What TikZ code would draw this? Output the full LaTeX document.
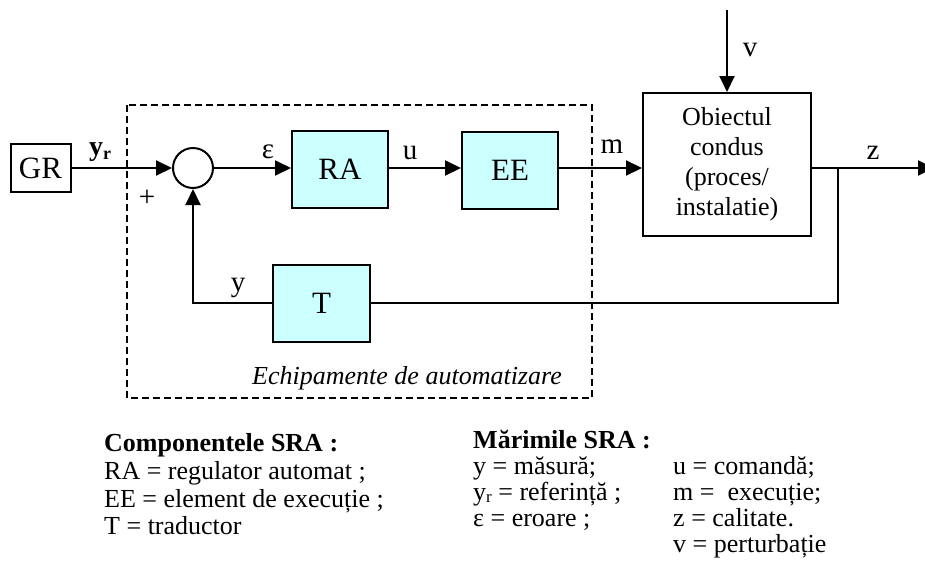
\documentclass[tikz,border=0pt]{standalone}
\usepackage{fontspec}
\setmainfont{Liberation Serif}
\usetikzlibrary{arrows.meta}
\definecolor{boxcyan}{HTML}{CCFFFF}
\tikzset{
  blk/.style={draw, line width=2pt, fill=boxcyan, inner sep=0pt, font=\fontsize{31}{33}\selectfont},
  plainblk/.style={draw, line width=2pt, fill=white, inner sep=0pt},
  sumnode/.style={draw, circle, line width=2pt, minimum size=40pt, inner sep=0pt},
  sig/.style={font=\fontsize{29}{31}\selectfont, inner sep=0pt},
  conn/.style={line width=2pt},
  arr/.style={conn, -{Triangle[length=16pt,width=15pt]}},
  legend/.style={font=\fontsize{26}{28}\selectfont, anchor=base west, inner sep=0pt},
  dashbox/.style={line width=2pt, dash pattern=on 7pt off 4pt},
}
\begin{document}
\begin{tikzpicture}[x=1pt,y=-1pt]
\clip (0,0) rectangle (925,568);
% dashed frame (automation equipment)
\draw[dashbox] (127,105) rectangle (592,398);
% blocks
\node[plainblk, minimum width=60pt, minimum height=48pt, font=\fontsize{31}{33}\selectfont] (GR) at (40.5,168) {GR};
\node[sumnode] (sum) at (193,168) {};
\node[blk, minimum width=96pt, minimum height=77pt] (RA) at (340,169.5) {RA};
\node[blk, minimum width=96pt, minimum height=77pt] (EE) at (510,170.5) {EE};
\node[blk, minimum width=97pt, minimum height=77pt] (T) at (321.5,303) {T};
\node[plainblk, minimum width=168pt, minimum height=143pt, align=center,
      font=\fontsize{26}{30}\selectfont] (Ob) at (727,164.5) {Obiectul\\condus\\(proces/\\instalatie)};
% coordinates
\coordinate (vtop) at (727,10);
\coordinate (zend) at (934,168);
\coordinate (br) at (838,168);
% connectors
\draw[arr] (GR.east |- sum.west) -- (sum.west);
\draw[arr] (sum.east) -- (sum.east -| RA.west);
\draw[arr] (sum.east -| RA.east) -- (sum.east -| EE.west);
\draw[arr] (sum.east -| EE.east) -- (sum.east -| Ob.west);
\draw[arr] (vtop) -- (Ob.north);
\draw[arr] (sum.east -| Ob.east) -- (zend);
\draw[conn] (br) |- (T.east);
\draw[arr] (T.west) -| (sum.south);
% signal labels
\node[sig, font=\fontsize{28}{30}\selectfont\bfseries] (lyr) at (100,152) {y\raisebox{-0.3ex}{\fontsize{18}{18}\selectfont r}};
\node[sig] (lplus) at (147,198) {+};
\node[sig] (leps) at (268,152) {ε};
\node[sig] (lu) at (410,153) {u};
\node[sig] (lm) at (612,147) {m};
\node[sig] (lz) at (873,153) {z};
\node[sig] (lv) at (750,50) {v};
\node[sig] (ly) at (238,288) {y};
\node[sig, font=\fontsize{26}{28}\selectfont\itshape] (lech) at (407,378) {Echipamente de automatizare};
% legend
\node[legend, font=\fontsize{26}{28}\selectfont\bfseries] (c0) at (104,451) {Componentele SRA :};
\node[legend] (c1) at (104,479) {RA = regulator automat ;};
\node[legend] (c2) at (104,507) {EE = element de execuție ;};
\node[legend] (c3) at (104,534) {T = traductor};
\node[legend, font=\fontsize{26}{28}\selectfont\bfseries] (m0) at (473,448) {Mărimile SRA :};
\node[legend] (m1) at (473,474) {y = măsură;};
\node[legend] (m2) at (473,500) {y\raisebox{-0.2ex}{\fontsize{17}{17}\selectfont r} = referință ;};
\node[legend] (m3) at (473,526) {ε = eroare ;};
\node[legend] (m4) at (673,474) {u = comandă;};
\node[legend] (m5) at (673,500) {m = \ execuție;};
\node[legend] (m6) at (673,526) {z = calitate.};
\node[legend] (m7) at (673,552) {v = perturbație};
\end{tikzpicture}
\end{document}
